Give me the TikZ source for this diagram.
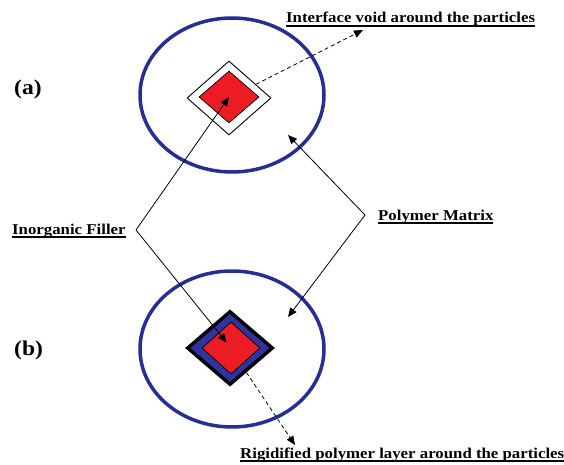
\documentclass[tikz,border=0pt]{standalone}
\usepackage{fontspec}
\setmainfont{Liberation Serif}[FakeStretch=1.12]
\usetikzlibrary{arrows.meta, shapes.geometric}
\definecolor{matblue}{RGB}{38,46,148}
\definecolor{fillred}{RGB}{237,28,36}
\definecolor{layerblue}{RGB}{48,50,160}
\newcommand{\undr}[1]{\setbox0\hbox{#1}\rlap{\vrule width\wd0 height -2.4pt depth 3.8pt}\box0}

\begin{document}
\begin{tikzpicture}[x=1pt, y=-1pt,
  matrixring/.style={ellipse, draw=matblue, line width=3.5pt, inner sep=0pt,
              minimum width=184pt, minimum height=154pt},
  void/.style={diamond, draw=black, fill=white, line width=0.9pt, inner sep=0pt,
              minimum width=84pt, minimum height=74pt},
  layer/.style={diamond, draw=black, fill=layerblue, line width=3.4pt, inner sep=0pt,
              minimum width=86pt, minimum height=74pt},
  filler/.style={diamond, draw=black, fill=fillred, line width=0.7pt, inner sep=0pt,
              minimum width=60pt, minimum height=52pt},
  ptr/.style={-{Triangle[length=9pt,width=7.5pt]}, line width=0.8pt, color=black},
  dptr/.style={ptr, dash pattern=on 4pt off 3pt},
  lbl/.style={anchor=base west, inner sep=0pt, font=\fontsize{15}{18}\selectfont\bfseries},
  tag/.style={anchor=base west, inner sep=0pt, font=\fontsize{21}{24}\selectfont\bfseries}
]
  \useasboundingbox (0,0) rectangle (564,465);

  % matrices
  \node[matrixring] (ringA) at (232,95)  {};
  \node[matrixring, minimum height=156pt] (ringB) at (232,349) {};

  % particles
  \node[void]   (voidA)  at (229,98)  {};
  \node[filler] (redA)   at (229,97)  {};
  \node[layer]  (layerB) at (230,348) {};
  \node[filler, minimum width=58pt] (redB) at (231,348) {};

  % labels
  \node[tag] (tagA) at (14,95)  {(a)};
  \node[tag] (tagB) at (14,355) {(b)};
  \node[lbl] (voidlbl)  at (286,23)  {\undr{Interface void around the particles}};
  \node[lbl] (fillbl)   at (12,234)  {\undr{Inorganic Filler}};
  \node[lbl] (matlbl)   at (378,220) {\undr{Polymer Matrix}};
  \node[lbl] (layerlbl) at (240,458) {\undr{Rigidified polymer layer around the particles}};

  \coordinate (fillV) at (136,230);
  \coordinate (matV)  at (365,215);
  \coordinate (matA)  at (288,135);
  \coordinate (matB)  at (288,317);
  \coordinate (voidTip)  at (363,30);
  \coordinate (layerTip) at (295,445);

  \draw[ptr] (fillV) -- (redA.center);
  \draw[ptr, shorten >=7pt] (fillV) -- (redB.center);
  \draw[ptr] (matV) -- (matA);
  \draw[ptr] (matV) -- (matB);
  \draw[dptr] (voidA) -- (voidTip);
  \draw[dptr] (layerB) -- (layerTip);
\end{tikzpicture}
\end{document}
